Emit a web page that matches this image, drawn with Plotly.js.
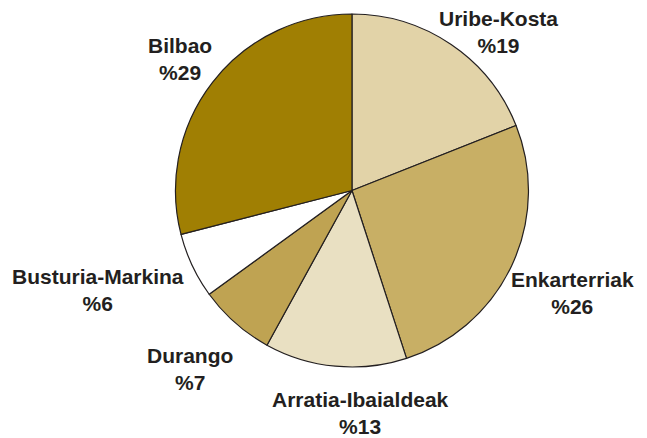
<!DOCTYPE html>
<html>
<head>
<meta charset="utf-8">
<script src="https://cdn.plot.ly/plotly-3.0.1.min.js"></script>
<style>html,body{margin:0;padding:0;background:#fff;}#chart{width:647px;height:438px;}</style>
</head>
<body>
<div id="chart"></div>
<script>
var regions = ["Uribe-Kosta", "Enkarterriak", "Arratia-Ibaialdeak", "Durango", "Busturia-Markina", "Bilbao"];
var shares = [19, 26, 13, 7, 6, 29];
var sliceColors = ["#E2D3A8", "#C8AF65", "#E9E0C2", "#BFA352", "#FFFFFF", "#A07F03"];
// label centre positions in pixels
var labelPx = [498, 572, 360, 190, 98, 180];
var labelPy = [32, 293, 413, 369, 290, 59];

var W = 647, H = 438;
var annotations = regions.map(function (r, i) {
  return {
    text: '<b>' + r + '</b><br><b>%' + shares[i] + '</b>',
    x: labelPx[i] / W, y: 1 - labelPy[i] / H,
    xref: 'paper', yref: 'paper', xanchor: 'center', yanchor: 'middle',
    showarrow: false,
    font: {family: 'Liberation Sans, Arial, sans-serif', size: 21, color: '#231F20'}
  };
});

Plotly.newPlot('chart', [{
  type: 'pie',
  labels: regions,
  values: shares,
  sort: false,
  direction: 'clockwise',
  rotation: 0,
  textinfo: 'none',
  hoverinfo: 'label+percent',
  marker: {colors: sliceColors, line: {color: '#231F20', width: 1.2}},
  domain: {x: [0.2, 0.888], y: [71 / H, 1 - 14 / H]}
}], {
  width: W, height: H,
  margin: {l: 0, r: 0, t: 0, b: 0},
  showlegend: false,
  paper_bgcolor: '#fff',
  annotations: annotations
}, {displayModeBar: false, staticPlot: true});
</script>
</body>
</html>
